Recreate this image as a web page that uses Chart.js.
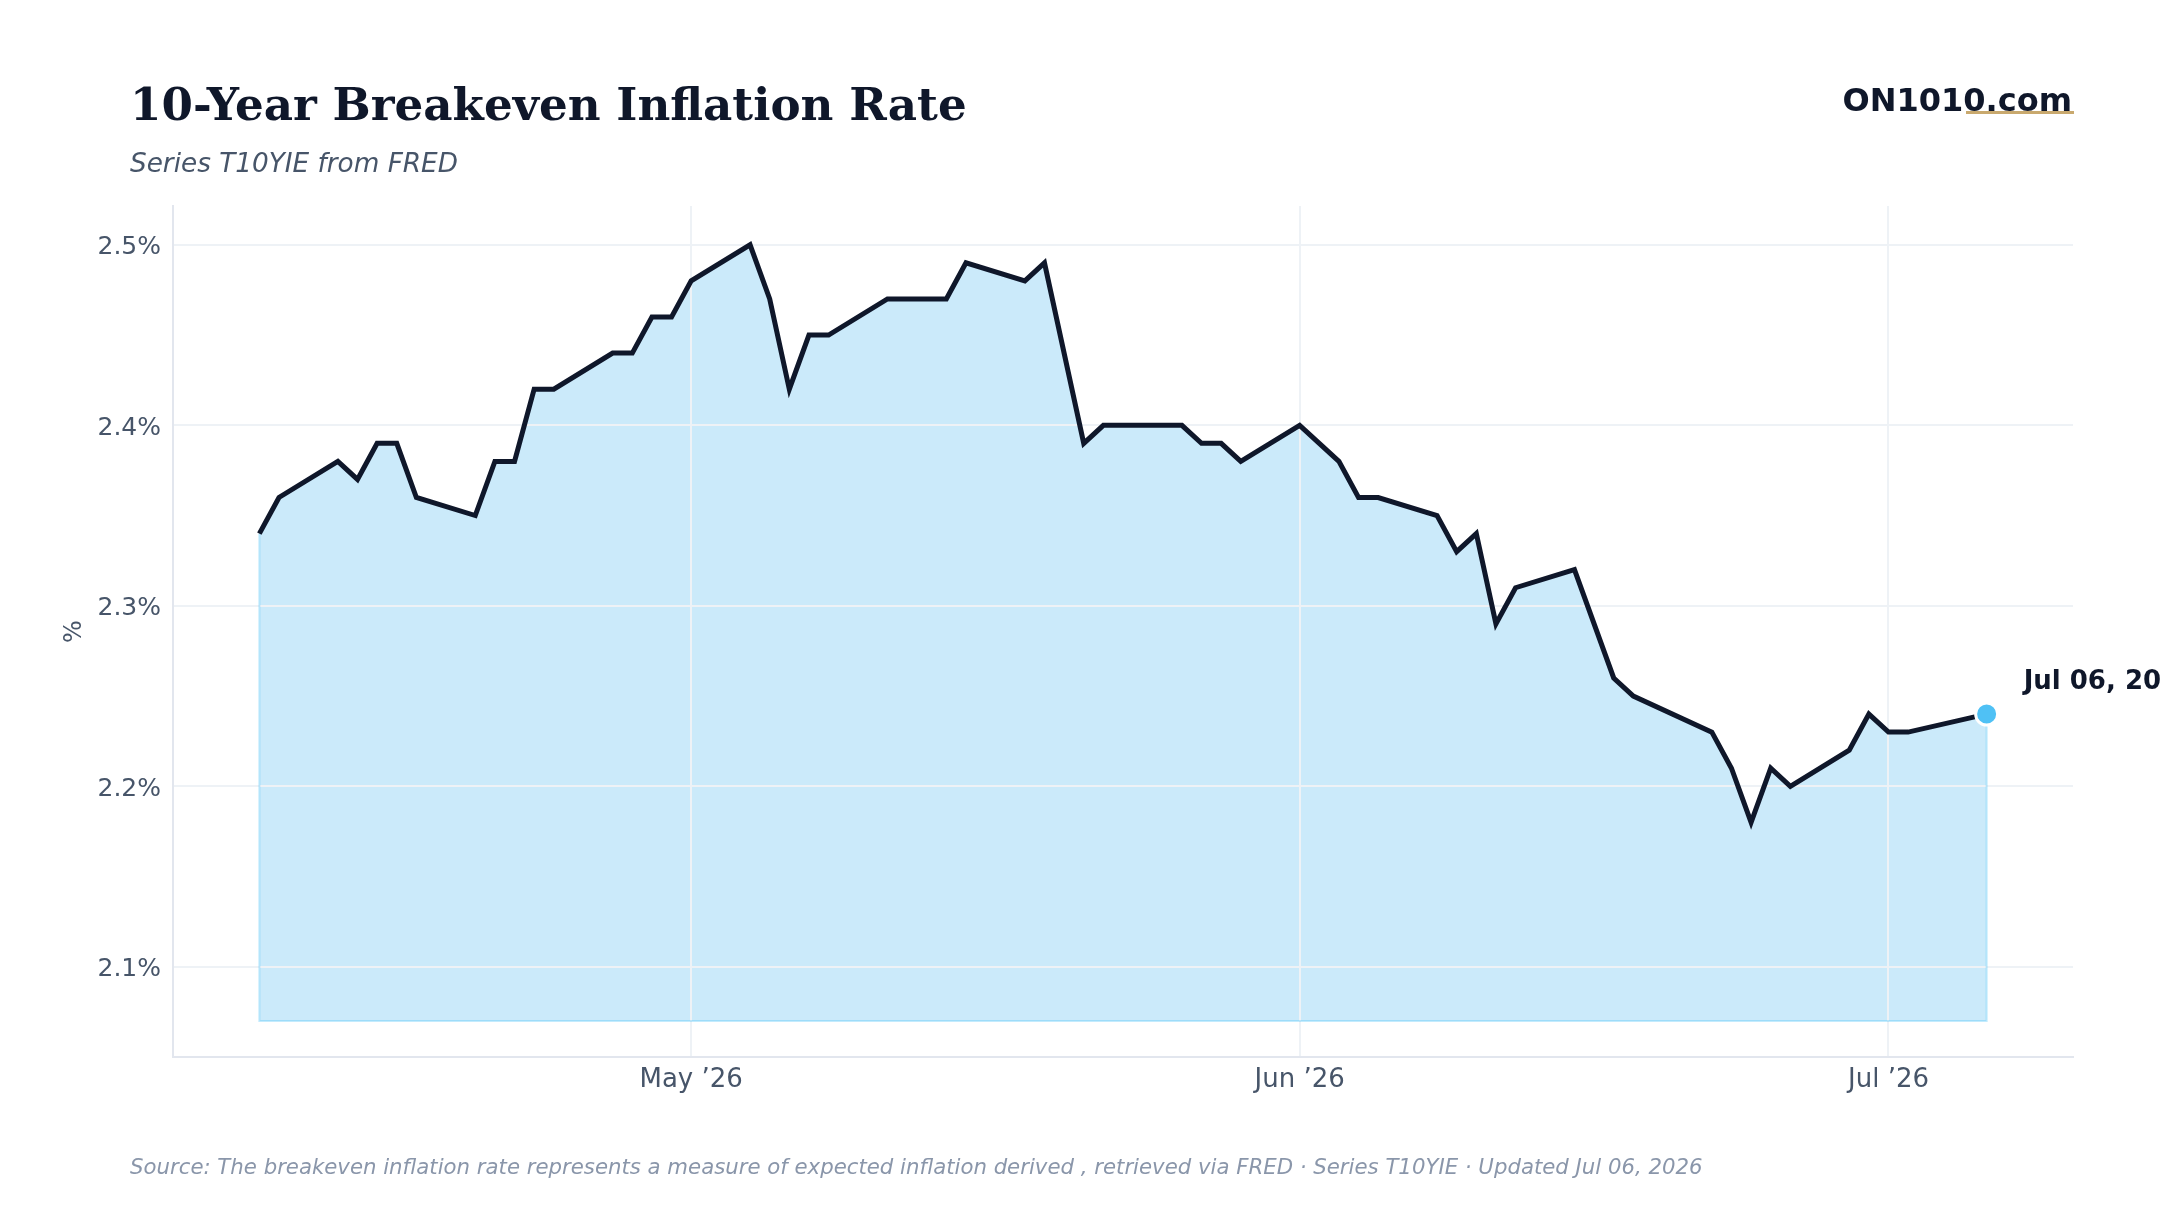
<!DOCTYPE html>
<html>
<head>
<meta charset="utf-8">
<title>10-Year Breakeven Inflation Rate</title>
<script src="https://cdn.jsdelivr.net/npm/chart.js@4.4.1/dist/chart.umd.min.js"></script>
<style>
  html, body { margin: 0; padding: 0; background: #ffffff; }
  body { width: 2160px; height: 1215px; position: relative; overflow: hidden; font-family: 'DejaVu Sans', sans-serif; }
  #chart { position: absolute; left: 0; top: 0; }
  .txt { position: absolute; line-height: 1; white-space: nowrap; }
  #title { left: 130px; top: 82px; font-family: 'DejaVu Serif', serif; font-weight: bold; font-size: 45.2px; color: #0f172a; }
  #subtitle { left: 130px; top: 150px; font-style: italic; font-size: 26.3px; color: #475569; }
  #logo { right: 88px; top: 84px; font-weight: bold; font-size: 32px; color: #0f172a; }
  #logoLine { position: absolute; left: 1966px; top: 111px; width: 108px; height: 3px; background: #c9a96e; }
  #footer { left: 130px; top: 1156px; font-style: italic; font-size: 21.25px; color: #8a96aa; }
</style>
</head>
<body>
<canvas id="chart" width="2160" height="1215"></canvas>
<div class="txt" id="title">10-Year Breakeven Inflation Rate</div>
<div class="txt" id="subtitle">Series T10YIE from FRED</div>
<div class="txt" id="logo">ON1010.com</div>
<div id="logoLine"></div>
<div class="txt" id="footer">Source: The breakeven inflation rate represents a measure of expected inflation derived , retrieved via FRED · Series T10YIE · Updated Jul 06, 2026</div>
<script>
// FRED T10YIE daily observations (percent)
const dates = [
    '2026-04-09', '2026-04-10', '2026-04-13', '2026-04-14', '2026-04-15', '2026-04-16', '2026-04-17',
    '2026-04-20', '2026-04-21', '2026-04-22', '2026-04-23', '2026-04-24',
    '2026-04-27', '2026-04-28', '2026-04-29', '2026-04-30', '2026-05-01',
    '2026-05-04', '2026-05-05', '2026-05-06', '2026-05-07', '2026-05-08',
    '2026-05-11', '2026-05-12', '2026-05-13', '2026-05-14', '2026-05-15',
    '2026-05-18', '2026-05-19', '2026-05-21', '2026-05-22',
    '2026-05-26', '2026-05-27', '2026-05-28', '2026-05-29',
    '2026-06-01', '2026-06-03', '2026-06-04', '2026-06-05',
    '2026-06-08', '2026-06-09', '2026-06-10', '2026-06-11', '2026-06-12',
    '2026-06-15', '2026-06-17', '2026-06-18',
    '2026-06-22', '2026-06-23', '2026-06-24', '2026-06-25', '2026-06-26',
    '2026-06-29', '2026-06-30', '2026-07-01', '2026-07-02',
    '2026-07-06'
];
const values = [
    2.34, 2.36, 2.38, 2.37, 2.39, 2.39, 2.36,
    2.35, 2.38, 2.38, 2.42, 2.42,
    2.44, 2.44, 2.46, 2.46, 2.48,
    2.50, 2.47, 2.42, 2.45, 2.45,
    2.47, 2.47, 2.47, 2.47, 2.49,
    2.48, 2.49, 2.39, 2.40,
    2.40, 2.39, 2.39, 2.38,
    2.40, 2.38, 2.36, 2.36,
    2.35, 2.33, 2.34, 2.29, 2.31,
    2.32, 2.26, 2.25,
    2.23, 2.21, 2.18, 2.21, 2.20,
    2.22, 2.24, 2.23, 2.23,
    2.24
];
const xTickDates = ['2026-05-01', '2026-06-01', '2026-07-01'];
const xTickLabels = ['May \u201926', 'Jun \u201926', 'Jul \u201926'];
const yTicks = [2.1, 2.2, 2.3, 2.4, 2.5];
const yMin = 2.05;
const yMax = 2.5215;
const fillBase = 2.07;

const DAY = 86400000;
const origin = Date.parse(xTickDates[0]);
const toDay = d => (Date.parse(d) - origin) / DAY;

const points = dates.map((d, i) => ({ x: toDay(d), y: values[i] }));
const xFirst = points[0].x;
const xLast = points[points.length - 1].x;
const xPad = (xLast - xFirst) * 0.05;
const lastIdx = points.length - 1;

const MONTHS = ['Jan', 'Feb', 'Mar', 'Apr', 'May', 'Jun', 'Jul', 'Aug', 'Sep', 'Oct', 'Nov', 'Dec'];
function formatDate(s) {
    const [y, m, d] = s.split('-');
    return MONTHS[parseInt(m, 10) - 1] + ' ' + d + ', ' + y;
}

const textColor = '#475569';
const gridColor = '#eef2f6';
const axisColor = '#e2e6ee';

// outline round the filled area (left, bottom and right edges)
const areaOutline = {
    id: 'areaOutline',
    beforeDatasetsDraw(chart) {
        const { ctx, scales: { x, y } } = chart;
        const x0 = x.getPixelForValue(points[0].x);
        const x1 = x.getPixelForValue(points[lastIdx].x);
        const yb = y.getPixelForValue(fillBase);
        ctx.save();
        ctx.strokeStyle = 'rgba(56, 189, 248, 0.3)';
        ctx.lineWidth = 2;
        ctx.beginPath();
        ctx.moveTo(x0, y.getPixelForValue(points[0].y));
        ctx.lineTo(x0, yb);
        ctx.lineTo(x1, yb);
        ctx.lineTo(x1, y.getPixelForValue(points[lastIdx].y));
        ctx.stroke();
        ctx.restore();
    }
};

// date label next to the last observation
const lastLabel = {
    id: 'lastLabel',
    afterDatasetsDraw(chart) {
        const el = chart.getDatasetMeta(0).data[lastIdx];
        if (!el) return;
        const { ctx } = chart;
        ctx.save();
        ctx.font = 'bold 26px "DejaVu Sans"';
        ctx.fillStyle = '#0f172a';
        ctx.textAlign = 'left';
        ctx.textBaseline = 'alphabetic';
        ctx.fillText(formatDate(dates[lastIdx]), el.x + 37, el.y - 25);
        ctx.restore();
    }
};

Chart.defaults.font.family = "'DejaVu Sans', sans-serif";

new Chart(document.getElementById('chart'), {
    type: 'line',
    data: {
        datasets: [{
            label: '10-Year Breakeven Inflation Rate',
            data: points,
            borderColor: '#0f172a',
            borderWidth: 5,
            backgroundColor: '#cbeafa',
            fill: { target: { value: fillBase } },
            tension: 0,
            borderJoinStyle: 'miter',
            pointRadius: ctx => ctx.dataIndex === lastIdx ? 11 : 0,
            pointHoverRadius: 0,
            pointBackgroundColor: '#4fc1f5',
            pointBorderColor: '#ffffff',
            pointBorderWidth: 3
        }]
    },
    options: {
        responsive: false,
        animation: false,
        devicePixelRatio: 1,
        layout: { padding: { top: 206, right: 87, left: 0, bottom: 0 } },
        plugins: {
            legend: { display: false },
            tooltip: { enabled: false },
            filler: { drawTime: 'beforeDraw' }
        },
        scales: {
            x: {
                type: 'linear',
                min: xFirst - xPad,
                max: xLast + xPad,
                afterBuildTicks: scale => { scale.ticks = xTickDates.map(d => ({ value: toDay(d) })); },
                afterFit: scale => { scale.height = 158; },
                ticks: {
                    color: textColor,
                    font: { size: 26 },
                    padding: 8,
                    maxRotation: 0,
                    autoSkip: false,
                    callback: (v, i) => xTickLabels[i]
                },
                grid: { color: gridColor, lineWidth: 2, drawTicks: false },
                border: { color: axisColor, width: 2 }
            },
            y: {
                min: yMin,
                max: yMax,
                afterBuildTicks: scale => { scale.ticks = yTicks.map(v => ({ value: v })); },
                afterFit: scale => { scale.width = 173; },
                ticks: {
                    color: textColor,
                    font: { size: 25 },
                    padding: 12,
                    labelOffset: 3,
                    callback: v => v.toFixed(1) + '%'
                },
                grid: { color: gridColor, lineWidth: 2, drawTicks: false },
                border: { color: axisColor, width: 2 },
                title: {
                    display: true,
                    text: '%',
                    color: textColor,
                    font: { size: 24 },
                    padding: { top: 60, bottom: 0 }
                }
            }
        }
    },
    plugins: [areaOutline, lastLabel]
});
</script>
</body>
</html>
